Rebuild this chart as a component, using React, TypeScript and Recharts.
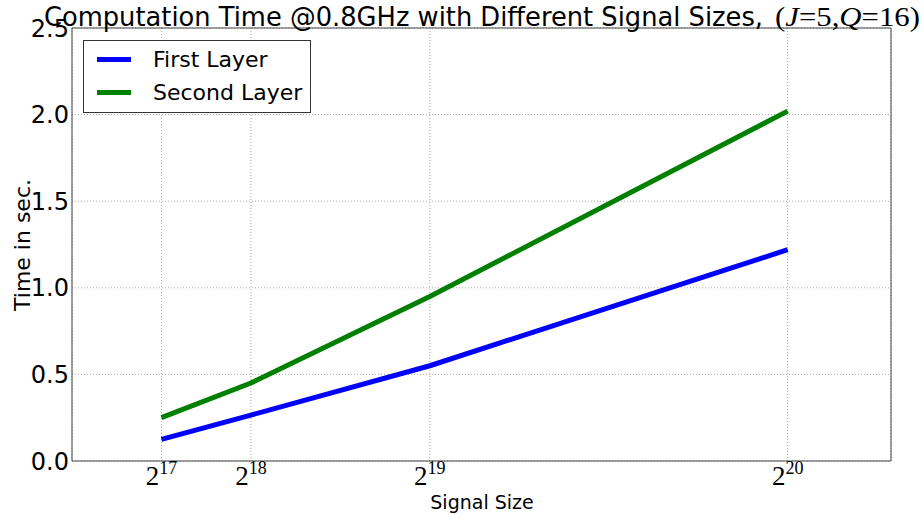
import { CartesianGrid, Legend, Line, LineChart, ReferenceArea, XAxis, YAxis } from "recharts";

const sizes = [131072, 262144, 524288, 1048576];
const exponents = ["17", "18", "19", "20"];
const firstLayer = [0.125, 0.265, 0.55, 1.22];
const secondLayer = [0.25, 0.45, 0.95, 2.02];
const yTicks = [0, 0.5, 1.0, 1.5, 2.0, 2.5];

const rows = sizes.map((size, i) => ({ size, first: firstLayer[i], second: secondLayer[i] }));

const sans = "'DejaVu Sans', sans-serif";
const serif = "'Liberation Serif', 'DejaVu Serif', serif";

function PowerTick(props: any) {
  const { x, y, payload } = props;
  const i = sizes.indexOf(payload.value);
  return (
    <text x={x} y={y + 22} textAnchor="middle" fontFamily={serif} fill="#000">
      <tspan fontSize={27}>2</tspan>
      <tspan fontSize={18} dy={-11}>{exponents[i]}</tspan>
    </text>
  );
}

function LegendBox(props: any) {
  const items = props.payload || [];
  return (
    <div
      style={{
        width: 228,
        height: 73,
        border: "1px solid #333",
        background: "#fff",
        boxSizing: "border-box",
        padding: "2px 0 0 13px",
        fontFamily: sans,
        fontSize: 22,
        lineHeight: "33px",
      }}
    >
      {items.map((item: any) => (
        <div key={item.value} style={{ display: "flex", alignItems: "center", height: 33 }}>
          <span style={{ display: "inline-block", width: 34, height: 5, background: item.color, marginRight: 22 }} />
          <span>{item.value}</span>
        </div>
      ))}
    </div>
  );
}

export default function App() {
  return (
    <div style={{ position: "absolute", left: 0, top: 0, width: 924, height: 517, background: "#fff" }}>
      <LineChart width={924} height={517} data={rows} margin={{ top: 28, right: 33, bottom: 0, left: 0 }}>
        <CartesianGrid stroke="#aaa" strokeDasharray="1 2" />
        <XAxis
          dataKey="size"
          type="number"
          domain={[0, 1200000]}
          ticks={sizes}
          height={56}
          tick={<PowerTick />}
          tickLine={false}
          tickSize={0}
          axisLine={false}
          interval={0}
        />
        <YAxis
          type="number"
          domain={[0, 2.5]}
          ticks={yTicks}
          width={72}
          tickFormatter={(v: number) => v.toFixed(1)}
          tick={{ fill: "#000", fontSize: 24, fontFamily: sans }}
          tickLine={false}
          tickSize={0}
          tickMargin={3}
          axisLine={false}
          interval={0}
        />
        <ReferenceArea x1={0} x2={1200000} y1={0} y2={2.5} fill="none" stroke="#444" strokeWidth={1} />
        <Line
          type="linear"
          dataKey="first"
          name="First Layer"
          stroke="#0000ff"
          strokeWidth={5}
          dot={false}
          isAnimationActive={false}
        />
        <Line
          type="linear"
          dataKey="second"
          name="Second Layer"
          stroke="#008000"
          strokeWidth={5}
          dot={false}
          isAnimationActive={false}
        />
        <Legend
          layout="vertical"
          align="center"
          verticalAlign="middle"
          content={<LegendBox />}
          wrapperStyle={{ left: 83, top: 40, width: 228, height: 73 }}
        />
      </LineChart>
      <svg
        width={924}
        height={517}
        style={{ position: "absolute", left: 0, top: 0, pointerEvents: "none" }}
      >
        <text x={44} y={26} fontFamily={sans} fontSize={26} textLength={719} lengthAdjust="spacingAndGlyphs">
          Computation Time @0.8GHz with Different Signal Sizes,
        </text>
        <text x={775} y={26} fontFamily={serif} fontSize={28} textLength={145} lengthAdjust="spacingAndGlyphs">
          <tspan>(</tspan>
          <tspan fontStyle="italic">J</tspan>
          <tspan>=5,</tspan>
          <tspan fontStyle="italic">Q</tspan>
          <tspan>=16)</tspan>
        </text>
        <text
          x={0}
          y={0}
          transform="translate(30 245) rotate(-90)"
          textAnchor="middle"
          fontFamily={sans}
          fontSize={22}
        >
          Time in sec.
        </text>
        <text x={482} y={509} textAnchor="middle" fontFamily={sans} fontSize={19}>
          Signal Size
        </text>
      </svg>
    </div>
  );
}
